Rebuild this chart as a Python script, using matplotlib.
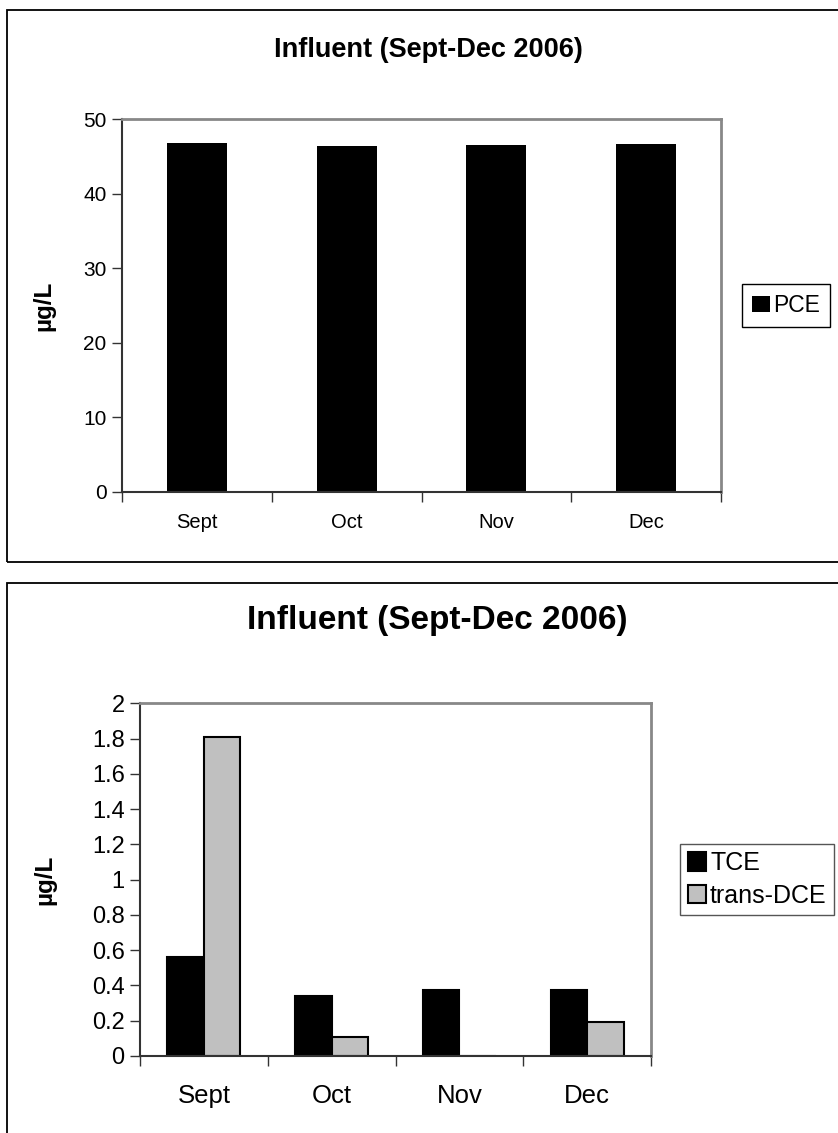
import matplotlib
matplotlib.use("Agg")
import matplotlib.pyplot as plt
import numpy as np
from matplotlib.patches import Rectangle

plt.rcParams['font.family'] = ['Liberation Sans', 'DejaVu Sans']

months = ['Sept', 'Oct', 'Nov', 'Dec']
pce = [46.85, 46.4, 46.5, 46.65]
tce = [0.56, 0.34, 0.375, 0.375]
trans_dce = [1.81, 0.11, 0.0, 0.195]
title = 'Influent (Sept-Dec 2006)'

W, H = 838, 1133
fig = plt.figure(figsize=(W / 100, H / 100), dpi=100)

def fx(px):
    return px / W

def fy(py):
    return 1 - py / H

def panel(x0, y0, x1, y1):
    r = Rectangle((fx(x0), fy(y1)), fx(x1 - x0), (y1 - y0) / H, transform=fig.transFigure,
                  fill=False, edgecolor='black', linewidth=1.3, zorder=0)
    fig.patches.append(r)

def style_axes(ax, ymax, yticks, ylabels, tick_size, xlab_size, xpad):
    ax.set_xlim(-0.5, 3.5)
    ax.set_ylim(0, ymax)
    ax.set_yticks(yticks)
    ax.set_yticklabels(ylabels, fontsize=tick_size)
    ax.set_xticks(np.arange(-0.5, 4, 1))
    ax.set_xticklabels([])
    ax.set_xticks(np.arange(4), minor=True)
    ax.set_xticklabels(months, minor=True, fontsize=xlab_size)
    ax.tick_params(axis='x', which='major', direction='out', length=7, width=1, color='#333333')
    ax.tick_params(axis='x', which='minor', length=0, pad=xpad)
    ax.tick_params(axis='y', direction='out', length=7, width=1, color='#333333', pad=4)
    for s in ['top', 'right']:
        ax.spines[s].set_color('#888888')
        ax.spines[s].set_linewidth(2)
    for s in ['left', 'bottom']:
        ax.spines[s].set_color('#333333')
        ax.spines[s].set_linewidth(1.5)

x = np.arange(len(months))

# top chart
panel(7, 10, 845, 562)
ax1 = fig.add_axes([fx(122), fy(491.7), fx(599), 372.4 / H])
ax1.bar(x, pce, width=0.4, color='black', label='PCE')
style_axes(ax1, 50, range(0, 51, 10), [str(v) for v in range(0, 51, 10)], 15, 14.5, 15)
ax1.set_ylabel('µg/L', fontsize=17.5, fontweight='bold')
ax1.yaxis.set_label_coords((55 - 122) / 599, 0.5)
fig.text(fx(428), fy(50), title, ha='center', va='center', fontsize=19.5, fontweight='bold')
ax1.legend(loc='center left', bbox_to_anchor=(fx(742), fy(305.5)), bbox_transform=fig.transFigure,
           fontsize=16.5, frameon=True, fancybox=False, edgecolor='black', framealpha=1,
           handlelength=0.75, handleheight=0.75, handletextpad=0.15, borderpad=0.45, borderaxespad=0)

# bottom chart
panel(7, 583, 845, 1140)
ax2 = fig.add_axes([fx(140), fy(1056), fx(511), 352.7 / H])
ax2.bar(x - 0.143, tce, width=0.286, color='black', edgecolor='black', linewidth=1.5, label='TCE')
ax2.bar(x + 0.143, trans_dce, width=0.286, color='#c0c0c0', edgecolor='black', linewidth=1.5,
        label='trans-DCE')
yt = np.round(np.arange(0, 2.01, 0.2), 1)
style_axes(ax2, 2, yt, ['0' if v == 0 else ('%g' % v) for v in yt], 17, 18.5, 20)
ax2.set_ylabel('µg/L', fontsize=17.5, fontweight='bold')
ax2.yaxis.set_label_coords((56 - 140) / 511, 0.5)
fig.text(fx(437), fy(621), title, ha='center', va='center', fontsize=24, fontweight='bold')
ax2.legend(loc='center left', bbox_to_anchor=(fx(680), fy(879.5)), bbox_transform=fig.transFigure,
           fontsize=18, frameon=True, fancybox=False, edgecolor='#555555', framealpha=1,
           handlelength=0.75, handleheight=0.75, handletextpad=0.15, borderpad=0.3,
           labelspacing=0.35, borderaxespad=0)

fig.savefig('out.png', dpi=100)
